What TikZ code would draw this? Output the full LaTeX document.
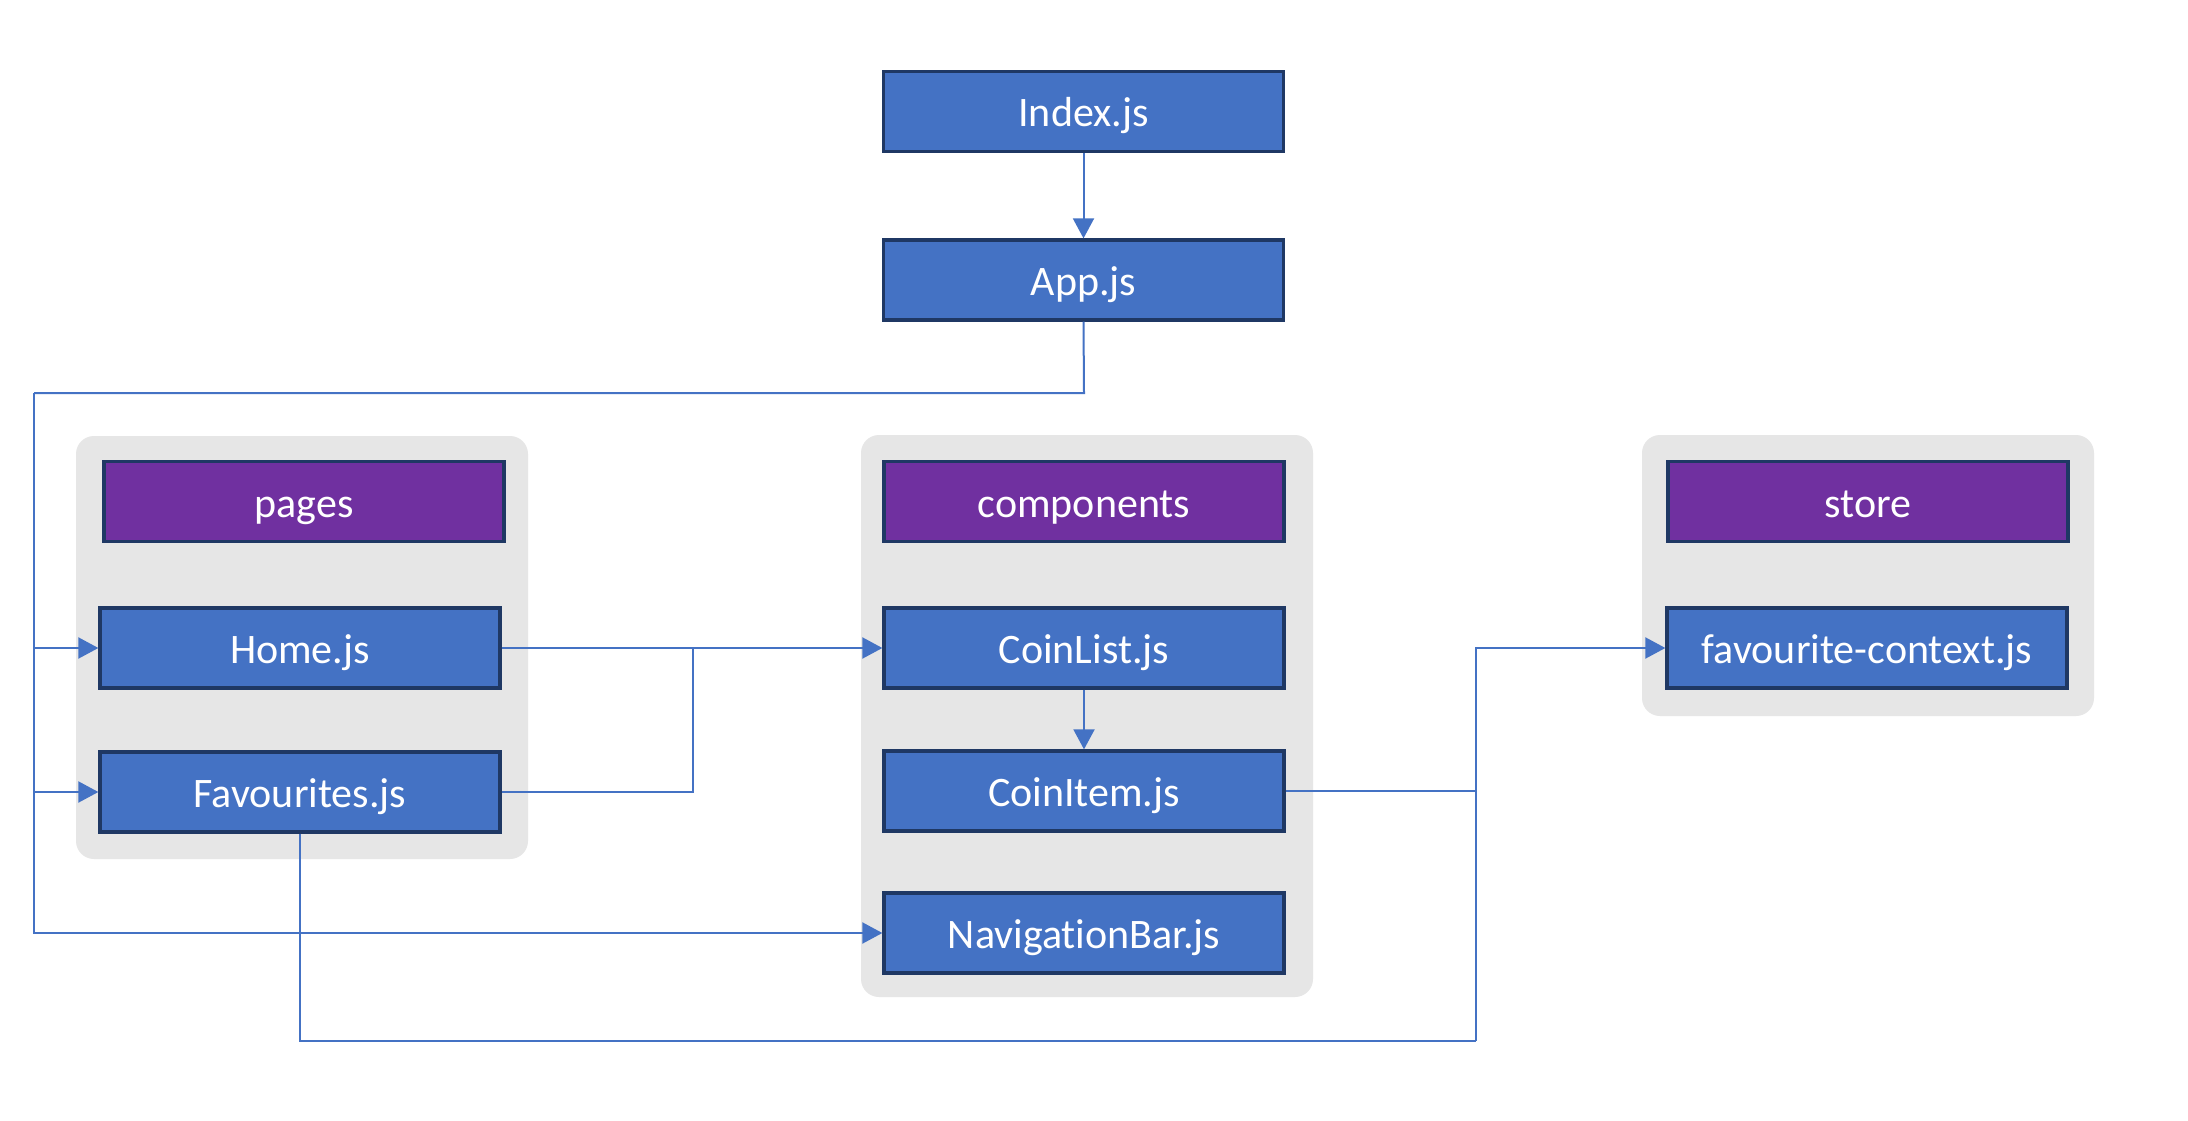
\documentclass[tikz,border=0pt]{standalone}
\usepackage{fontspec}
\setmainfont{Carlito}[Ligatures=NoCommon]
\usetikzlibrary{arrows.meta}
\definecolor{boxblue}{HTML}{4472C4}
\definecolor{boxedge}{HTML}{1F3864}
\definecolor{hdrpurple}{HTML}{7030A0}
\definecolor{grpgray}{HTML}{E6E6E6}
\definecolor{linkblue}{HTML}{4472C4}
\tikzset{
  filebox/.style={draw=boxedge, line width=3.3pt, fill=boxblue, text=white,
    minimum width=400pt, minimum height=80pt, inner sep=0pt,
    text height=31pt, text depth=0pt,
    font=\fontsize{42}{50}\selectfont},
  hdrbox/.style={filebox, fill=hdrpurple},
  grpbox/.style={fill=grpgray, draw=none, rounded corners=18pt, inner sep=0pt},
  conn/.style={draw=linkblue, line width=2pt},
  arr/.style={conn, -{Triangle[length=20pt,width=21pt]}},
}
\begin{document}
\begin{tikzpicture}[x=1pt,y=-1pt]
\useasboundingbox[fill=white] (0,0) rectangle (2188,1121);
% groups
\node[grpbox, minimum width=452pt, minimum height=423pt] (gpages) at (302,647.5) {};
\node[grpbox, minimum width=452pt, minimum height=562pt] (gcomp) at (1087,716) {};
\node[grpbox, minimum width=452pt, minimum height=281pt] (gstore) at (1868,575.5) {};
% boxes
\node[filebox] (idx) at (1083.5,111.5) {Index.js};
\node[filebox] (app) at (1083.5,280) {App.js};
\node[hdrbox] (hpages) at (304,501.5) {pages};
\node[filebox] (home) at (300,648) {Home.js};
\node[filebox] (fav) at (300,792) {Favourites.js};
\node[hdrbox] (hcomp) at (1084,501.5) {components};
\node[filebox] (coinlist) at (1084,648) {CoinList.js};
\node[filebox] (coinitem) at (1084,791) {CoinItem.js};
\node[filebox] (nav) at (1084,933) {NavigationBar.js};
\node[hdrbox] (hstore) at (1868,501.5) {store};
\node[filebox] (fctx) at (1867,648) {favourite-context.js};
% helper coordinates
\coordinate (appbend) at (1084,393);
\coordinate (leftbend) at (34,393);
\coordinate (mergex) at (693,648);
\coordinate (favlow) at (300,1041);
\coordinate (rightlow) at (1476,1041);
% connectors
\draw[arr] (idx.south) -- (app.north);
\draw[conn] (app.south) -- (appbend) -- (leftbend);
\draw[arr] (leftbend) |- (home.west);
\draw[arr] (leftbend) |- (fav.west);
\draw[arr] (leftbend) |- (nav.west);
\draw[arr] (home.east) -- (coinlist.west);
\draw[conn] (fav.east) -| (mergex);
\draw[arr] (coinlist.south) -- (coinitem.north);
\draw[conn] (fav.south) -- (favlow) -- (rightlow);
\draw[arr] (rightlow) |- (fctx.west);
\draw[conn] (coinitem.east) -- (coinitem.east -| rightlow);
\end{tikzpicture}
\end{document}
